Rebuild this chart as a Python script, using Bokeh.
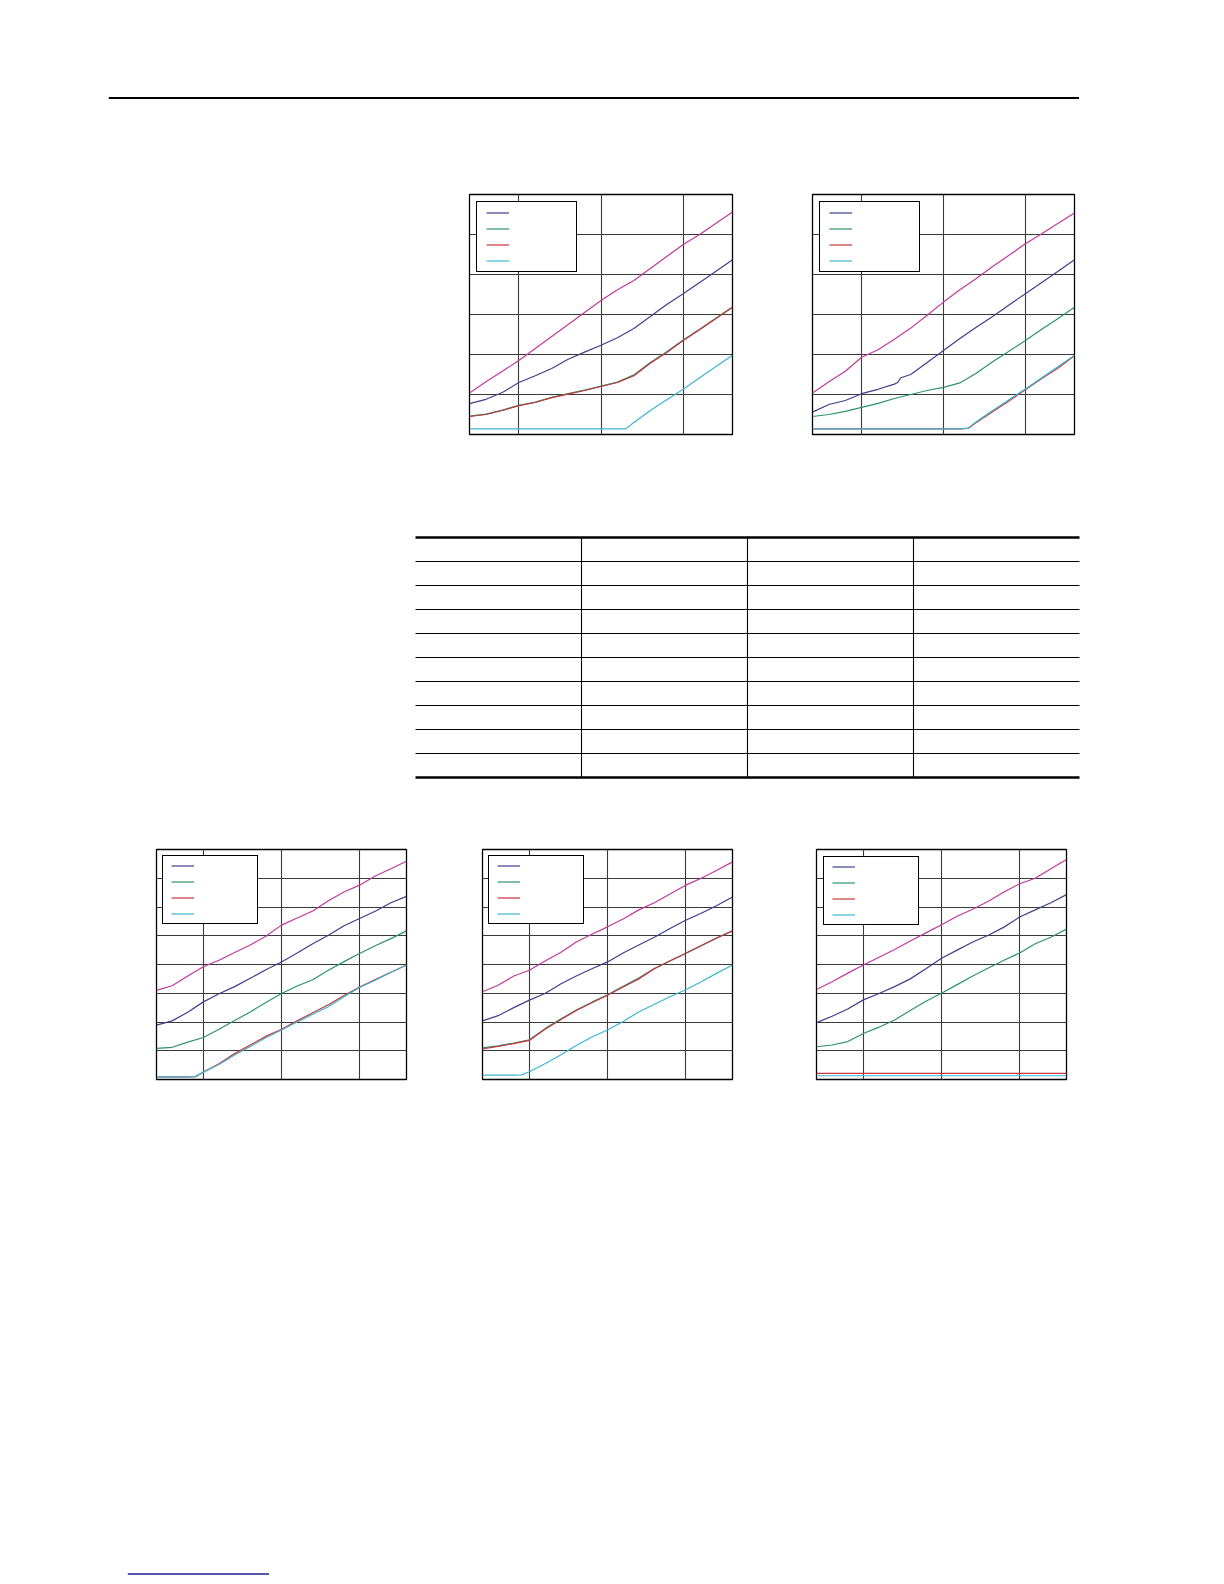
from bokeh.plotting import figure
from bokeh.models import Range1d, Grid, FixedTicker, Legend, LegendItem, Spacer
from bokeh.layouts import column, row
from bokeh.core.properties import value
from bokeh.embed import file_html
from bokeh.resources import INLINE

# ---------------- data ----------------
X = [-30, -20, -10, 0, 10, 20, 30, 40, 50, 60, 70, 80, 90, 100, 110, 120, 130]
X_KINK65 = [-30, -20, -10, 0, 10, 20, 30, 40, 50, 60, 65, 70, 80, 90, 100, 110, 120, 130]
X_KINKM5 = [-30, -20, -10, -5, 0, 10, 20, 30, 40, 50, 60, 70, 80, 90, 100, 110, 120, 130]
X_STEP = [-30, -20, -10, 0, 10, 20, 22, 24, 30, 40, 50, 60, 70, 80, 90, 100, 110, 120, 130]
X_GRID = [0, 50, 100]

# chart A (top left)
a_magenta = [1.04, 1.32, 1.58, 1.85, 2.15, 2.45, 2.75, 3.05, 3.35, 3.62, 3.85, 4.15, 4.45, 4.75, 5.0, 5.28, 5.56]
a_navy = [0.77, 0.88, 1.05, 1.3, 1.47, 1.65, 1.88, 2.06, 2.23, 2.42, 2.65, 2.95, 3.25, 3.52, 3.8, 4.08, 4.37]
a_green = [0.46, 0.51, 0.61, 0.73, 0.81, 0.93, 1.02, 1.11, 1.21, 1.31, 1.49, 1.8, 2.07, 2.36, 2.63, 2.91, 3.19]
a_red = [0.45, 0.5, 0.6, 0.72, 0.8, 0.92, 1.01, 1.1, 1.2, 1.3, 1.47, 1.78, 2.05, 2.35, 2.62, 2.9, 3.18]
a_cyan = [0.14, 0.14, 0.14, 0.14, 0.14, 0.14, 0.14, 0.14, 0.14, 0.14, 0.14, 0.3, 0.6, 0.87, 1.13, 1.42, 1.7, 1.98]

# chart B (top right)
b_magenta = [1.04, 1.32, 1.58, 1.93, 2.12, 2.38, 2.66, 2.98, 3.31, 3.62, 3.9, 4.2, 4.48, 4.77, 5.02, 5.28, 5.54]
b_navy = [0.56, 0.75, 0.85, 1.02, 1.13, 1.26, 1.3, 1.42, 1.5, 1.8, 2.1, 2.4, 2.68, 2.95, 3.24, 3.52, 3.8, 4.08, 4.37]
b_green = [0.45, 0.5, 0.58, 0.68, 0.78, 0.9, 1.0, 1.1, 1.18, 1.29, 1.53, 1.82, 2.08, 2.35, 2.63, 2.9, 3.18]
b_red = [0.14, 0.14, 0.14, 0.14, 0.14, 0.14, 0.14, 0.14, 0.14, 0.14, 0.15, 0.3, 0.57, 0.84, 1.12, 1.4, 1.66, 1.97]
b_cyan = [0.14, 0.14, 0.14, 0.14, 0.14, 0.14, 0.14, 0.14, 0.14, 0.14, 0.16, 0.32, 0.6, 0.87, 1.14, 1.42, 1.7, 1.98]

# chart C (bottom left)
c_magenta = [3.1, 3.26, 3.6, 3.92, 4.15, 4.42, 4.68, 4.98, 5.37, 5.62, 5.86, 6.22, 6.52, 6.76, 7.08, 7.33, 7.59]
c_navy = [1.89, 2.04, 2.34, 2.7, 2.98, 3.23, 3.52, 3.82, 4.09, 4.4, 4.72, 5.02, 5.35, 5.6, 5.85, 6.15, 6.37]
c_green = [1.08, 1.12, 1.3, 1.46, 1.75, 2.05, 2.35, 2.68, 2.99, 3.25, 3.47, 3.8, 4.1, 4.38, 4.65, 4.9, 5.17]
c_red = [0.09, 0.09, 0.09, 0.1, 0.26, 0.55, 0.9, 1.2, 1.5, 1.75, 2.04, 2.32, 2.6, 2.92, 3.22, 3.48, 3.73, 3.98]
c_cyan = [0.09, 0.09, 0.09, 0.1, 0.25, 0.52, 0.85, 1.15, 1.45, 1.72, 2.0, 2.27, 2.53, 2.88, 3.2, 3.45, 3.72, 3.98]

# chart D (bottom middle)
d_magenta = [3.05, 3.28, 3.6, 3.8, 4.12, 4.42, 4.78, 5.05, 5.31, 5.58, 5.9, 6.15, 6.45, 6.76, 7.0, 7.28, 7.57]
d_navy = [2.04, 2.22, 2.5, 2.76, 2.99, 3.32, 3.6, 3.85, 4.09, 4.4, 4.68, 4.95, 5.25, 5.54, 5.78, 6.05, 6.35]
d_green = [1.1, 1.17, 1.27, 1.38, 1.77, 2.1, 2.42, 2.69, 2.95, 3.24, 3.53, 3.86, 4.13, 4.39, 4.66, 4.93, 5.17]
d_red = [1.06, 1.15, 1.25, 1.36, 1.75, 2.08, 2.4, 2.67, 2.93, 3.22, 3.5, 3.85, 4.12, 4.38, 4.65, 4.92, 5.17]
d_cyan = [0.15, 0.15, 0.15, 0.16, 0.27, 0.55, 0.85, 1.18, 1.48, 1.72, 2.02, 2.35, 2.62, 2.88, 3.12, 3.4, 3.7, 3.98]

# chart E (bottom right)
e_magenta = [3.13, 3.4, 3.7, 3.98, 4.25, 4.52, 4.82, 5.1, 5.38, 5.68, 5.92, 6.2, 6.52, 6.81, 7.0, 7.33, 7.65]
e_navy = [1.98, 2.2, 2.45, 2.77, 2.99, 3.23, 3.5, 3.85, 4.22, 4.5, 4.78, 5.02, 5.3, 5.65, 5.9, 6.15, 6.43]
e_green = [1.14, 1.2, 1.32, 1.6, 1.82, 2.07, 2.4, 2.72, 3.0, 3.3, 3.6, 3.88, 4.15, 4.4, 4.72, 4.95, 5.23]
e_red = [0.21, 0.21, 0.21, 0.21, 0.21, 0.21, 0.21, 0.21, 0.21, 0.21, 0.21, 0.21, 0.21, 0.21, 0.21, 0.21, 0.21]
e_cyan = [0.13, 0.13, 0.13, 0.13, 0.13, 0.13, 0.13, 0.13, 0.13, 0.13, 0.13, 0.13, 0.13, 0.13, 0.13, 0.13, 0.13]

# table (empty grid, 4 columns x 10 rows)
table_col_edges = [0, 1, 2, 3, 4]
table_row_edges = [0, 1, 2, 3, 4, 5, 6, 7, 8, 9, 10]

# page rules (header rule, footer underline), as fractions of their strip
header_rule_x = [0, 1]
footer_rule_x = [0, 1]

COL = dict(magenta="#c2389c", navy="#3e3e8e", green="#2b9467", red="#c8343c", cyan="#3ab7d0")
GRID_COLOR = "#3a3a3a"


def chart(fw, fh, ymax, series, margin, spacing, padding, label_width):
    b = 2
    p = figure(width=fw + 2 * b, height=fh + 2 * b,
               x_range=Range1d(-30, 130), y_range=Range1d(0, ymax),
               output_backend="svg", toolbar_location=None,
               x_axis_location=None, y_axis_location=None,
               min_border=b, outline_line_color="black", outline_line_width=1.3,
               outline_line_alpha=1.0,
               background_fill_color="white", border_fill_color="white")
    p.xgrid.visible = False
    p.ygrid.visible = False
    p.add_layout(Grid(dimension=0, ticker=FixedTicker(ticks=X_GRID),
                      grid_line_color=GRID_COLOR, grid_line_width=1.1))
    p.add_layout(Grid(dimension=1, ticker=FixedTicker(ticks=list(range(1, ymax))),
                      grid_line_color=GRID_COLOR, grid_line_width=1.1))
    rs = {}
    for name, xs, ys in series:
        rs[name] = p.line(xs, ys, line_color=COL[name], line_width=1.2)
    legend_names = ["navy", "green", "red", "cyan"]

    def make_legend(m, bg, border):
        return Legend(
            items=[LegendItem(label=value(""), renderers=[rs[n]]) for n in legend_names],
            location="top_left", margin=m, padding=padding, spacing=spacing,
            glyph_width=23, glyph_height=3, label_height=3,
            label_width=label_width, label_standoff=0,
            label_text_font_size="2px",
            background_fill_color=bg, background_fill_alpha=1.0,
            border_line_color=border, border_line_width=1.6,
            border_line_alpha=1.0,
        )
    p.add_layout(make_legend(margin + 3, "#d4d4d4", None))
    p.add_layout(make_legend(margin, "white", "black"))
    return p


def rule_fig(w, h, xs, color, lw):
    p = figure(width=w, height=h, output_backend="svg", toolbar_location=None,
               x_range=Range1d(0, 1), y_range=Range1d(0, 1),
               x_axis_location=None, y_axis_location=None, min_border=0,
               outline_line_color=None, background_fill_color="white",
               border_fill_color="white")
    p.xgrid.visible = False
    p.ygrid.visible = False
    p.line(x=xs, y=[0.5, 0.5], line_color=color, line_width=lw)
    return p


def table_fig():
    n_in = len(table_row_edges) - 2
    pad = 2.0 / 24
    p = figure(width=668, height=244, output_backend="svg", toolbar_location=None,
               x_range=Range1d(-2.0 / 166, 4 + 2.0 / 166),
               y_range=Range1d(-pad, 10 + pad),
               x_axis_location=None, y_axis_location=None, min_border=0,
               outline_line_color=None, background_fill_color="white",
               border_fill_color="white")
    p.xgrid.visible = False
    p.ygrid.visible = False
    x0, x1 = table_col_edges[0], table_col_edges[-1]
    y0, y1 = table_row_edges[0], table_row_edges[-1]
    inner = table_row_edges[1:-1]
    p.segment(x0=[x0] * n_in, x1=[x1] * n_in, y0=inner, y1=inner,
              line_color="black", line_width=1.1)
    vcols = table_col_edges[1:-1]
    p.segment(x0=vcols, x1=vcols, y0=[y0] * len(vcols), y1=[y1] * len(vcols),
              line_color="black", line_width=1.1)
    p.segment(x0=[x0, x0], x1=[x1, x1], y0=[y0, y1], y1=[y0, y1],
              line_color="black", line_width=2.6)
    return p


chart_a = chart(263, 240, 6, [
    ("magenta", X, a_magenta), ("navy", X, a_navy), ("green", X, a_green),
    ("red", X, a_red), ("cyan", X_KINK65, a_cyan)], 7, 13, 9, 58)
chart_b = chart(262, 240, 6, [
    ("magenta", X, b_magenta), ("navy", X_STEP, b_navy), ("green", X, b_green),
    ("red", X_KINK65, b_red), ("cyan", X_KINK65, b_cyan)], 7, 13, 9, 58)
chart_c = chart(250, 230, 8, [
    ("magenta", X, c_magenta), ("navy", X, c_navy), ("green", X, c_green),
    ("red", X_KINKM5, c_red), ("cyan", X_KINKM5, c_cyan)], 6, 13, 8, 55)
chart_d = chart(250, 230, 8, [
    ("magenta", X, d_magenta), ("navy", X, d_navy), ("green", X, d_green),
    ("red", X, d_red), ("cyan", X_KINKM5, d_cyan)], 6, 13, 8, 55)
chart_e = chart(250, 230, 8, [
    ("magenta", X, e_magenta), ("navy", X, e_navy), ("green", X, e_green),
    ("red", X, e_red), ("cyan", X, e_cyan)], 7, 13, 8, 55)

rule = rule_fig(971, 61, header_rule_x, "black", 2.2)
foot = rule_fig(142, 11, footer_rule_x, "#1c1c8e", 1.4)

layout = column(
    Spacer(width=1, height=67),
    row(Spacer(width=108, height=61), rule),
    Spacer(width=1, height=64),
    row(Spacer(width=467, height=1), chart_a, Spacer(width=76, height=1), chart_b),
    Spacer(width=1, height=99),
    row(Spacer(width=413, height=1), table_fig()),
    Spacer(width=1, height=68),
    row(Spacer(width=154, height=1), chart_c, Spacer(width=72, height=1), chart_d,
        Spacer(width=80, height=1), chart_e),
    Spacer(width=1, height=486),
    row(Spacer(width=127, height=1), foot),
)

open("out.html", "w").write(file_html(layout, INLINE))
